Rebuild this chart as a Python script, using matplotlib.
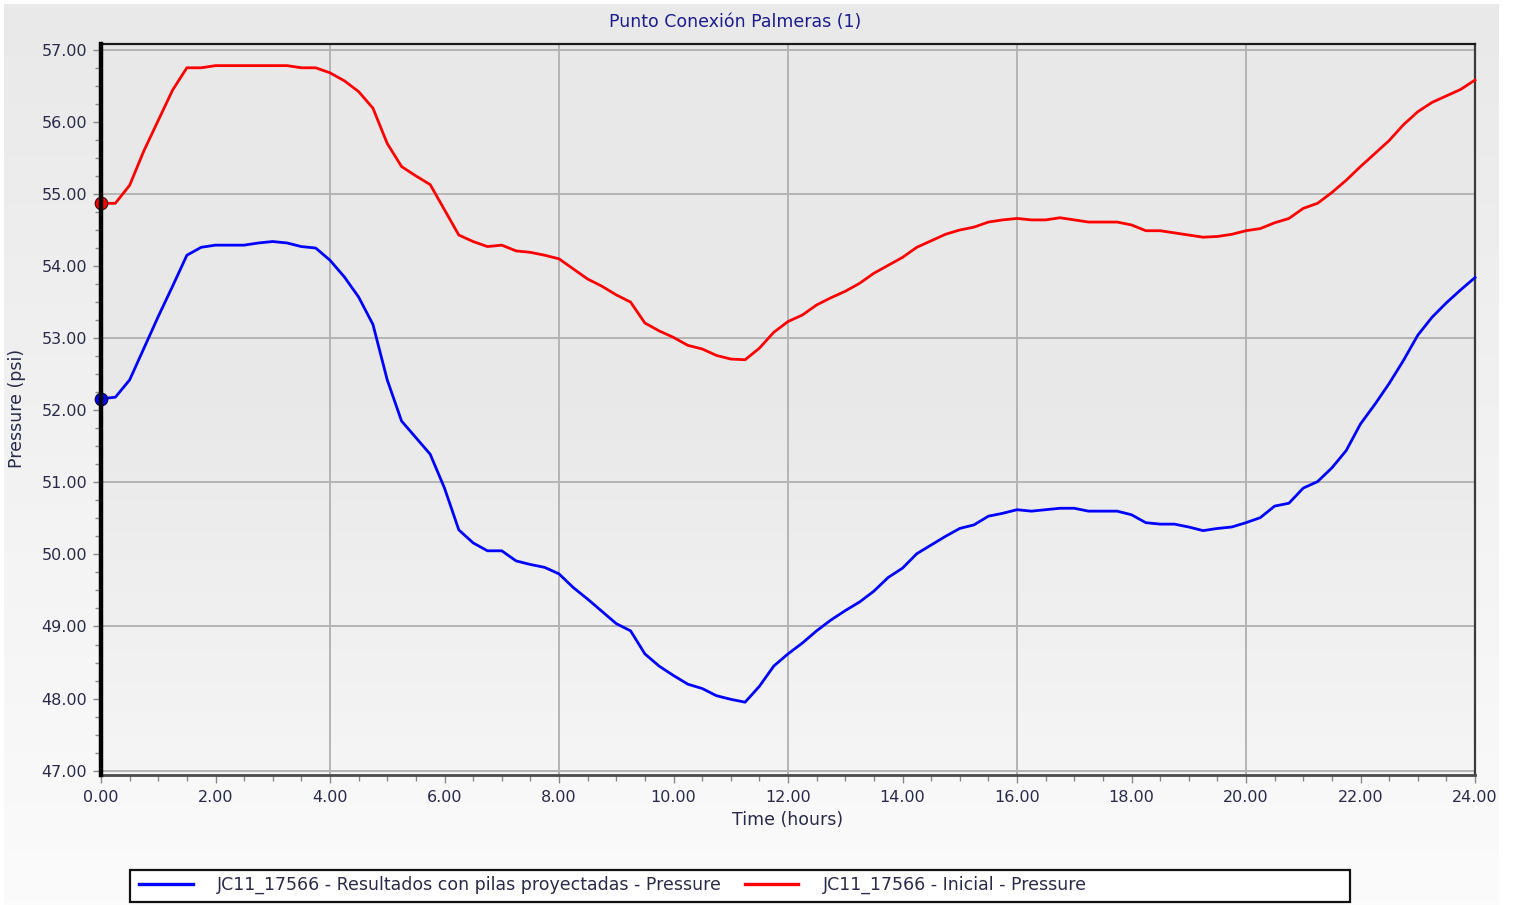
import numpy as np
import matplotlib
matplotlib.use("Agg")
import matplotlib.pyplot as plt
from matplotlib.ticker import MultipleLocator, FormatStrFormatter
from matplotlib.patches import Rectangle
from matplotlib.lines import Line2D

# ---------------- data ----------------
time_hours = [i * 0.25 for i in range(97)]

pressure_proyectadas = [
    52.16, 52.18, 52.42, 52.86, 53.30, 53.72, 54.15, 54.26,
    54.29, 54.29, 54.29, 54.32, 54.34, 54.32, 54.27, 54.25,
    54.08, 53.85, 53.57, 53.19, 52.42, 51.85, 51.62, 51.39,
    50.92, 50.34, 50.16, 50.05, 50.05, 49.91, 49.86, 49.82,
    49.73, 49.54, 49.38, 49.21, 49.04, 48.94, 48.62, 48.45,
    48.32, 48.20, 48.14, 48.04, 47.99, 47.95, 48.17, 48.45,
    48.62, 48.77, 48.94, 49.09, 49.22, 49.34, 49.49, 49.68,
    49.81, 50.01, 50.13, 50.25, 50.36, 50.41, 50.53, 50.57,
    50.62, 50.60, 50.62, 50.64, 50.64, 50.60, 50.60, 50.60,
    50.55, 50.44, 50.42, 50.42, 50.38, 50.33, 50.36, 50.38,
    50.44, 50.51, 50.67, 50.71, 50.92, 51.01, 51.20, 51.44,
    51.81, 52.08, 52.37, 52.69, 53.04, 53.29, 53.49, 53.67,
    53.84,
]

pressure_inicial = [
    54.87, 54.87, 55.12, 55.60, 56.02, 56.44, 56.75, 56.75,
    56.78, 56.78, 56.78, 56.78, 56.78, 56.78, 56.75, 56.75,
    56.68, 56.57, 56.42, 56.19, 55.70, 55.38, 55.25, 55.13,
    54.78, 54.43, 54.34, 54.27, 54.29, 54.21, 54.19, 54.15,
    54.10, 53.96, 53.82, 53.72, 53.60, 53.50, 53.21, 53.10,
    53.01, 52.90, 52.85, 52.76, 52.71, 52.70, 52.86, 53.08,
    53.23, 53.32, 53.46, 53.56, 53.65, 53.76, 53.90, 54.01,
    54.12, 54.26, 54.35, 54.44, 54.50, 54.54, 54.61, 54.64,
    54.66, 54.64, 54.64, 54.67, 54.64, 54.61, 54.61, 54.61,
    54.57, 54.49, 54.49, 54.46, 54.43, 54.40, 54.41, 54.44,
    54.49, 54.52, 54.60, 54.66, 54.80, 54.87, 55.02, 55.19,
    55.38, 55.56, 55.74, 55.96, 56.14, 56.27, 56.36, 56.45,
    56.58,
]

label_proyectadas = "JC11_17566 - Resultados con pilas proyectadas - Pressure"
label_inicial = "JC11_17566 - Inicial - Pressure"
title = "Punto Conexión Palmeras (1)"
x_label = "Time (hours)"
y_label = "Pressure (psi)"
x_grid = [4, 8, 12, 16, 20]
y_grid = [47, 49, 51, 53, 55, 57]

# ---------------- figure ----------------
W, H = 1513, 905
fig = plt.figure(figsize=(W / 100, H / 100), dpi=100, facecolor="white")

# outer panel with soft gradient
bg = fig.add_axes([0, 0, 1, 1], zorder=-10)
bg.set_axis_off()
bg.set_xlim(0, 1)
bg.set_ylim(0, 1)
grad = np.linspace(0, 1, 256).reshape(-1, 1)
bg.imshow(grad, cmap=matplotlib.colors.LinearSegmentedColormap.from_list(
    "p", ["#e9e9e9", "#fbfbfb"]), aspect="auto",
    extent=[4 / W, 1499 / W, 0, 1 - 5 / H], origin="upper")

ax = fig.add_axes([101 / W, 1 - 775 / H, (1475 - 101) / W, (775 - 44) / H])
ax.set_facecolor("none")
ax.imshow(grad, cmap=matplotlib.colors.LinearSegmentedColormap.from_list(
    "a", ["#e8e8e8", "#e9e9e9", "#f5f5f5"]), aspect="auto",
    extent=[0, 1, 0, 1], transform=ax.transAxes, origin="upper", zorder=0)

ax.set_xlim(0, 24)
ax.set_ylim(46.94, 57.08)

for g in y_grid:
    ax.axhline(g, color="#b4b4b4", lw=1.4, zorder=1)
for g in x_grid:
    ax.axvline(g, color="#b4b4b4", lw=1.4, zorder=1)

ax.plot(time_hours, pressure_inicial, color="#ff0000", lw=2.0, zorder=3,
        marker="o", markevery=[0], markersize=9, markerfacecolor="#ff0000",
        markeredgecolor="#4a0c0c", markeredgewidth=0.9, clip_on=False)
ax.plot(time_hours, pressure_proyectadas, color="#0000ff", lw=2.0, zorder=3,
        marker="o", markevery=[0], markersize=9, markerfacecolor="#0000ff",
        markeredgecolor="#0c0c4a", markeredgewidth=0.9, clip_on=False)

# spines
ax.spines["left"].set_color("#000000")
ax.spines["left"].set_linewidth(3.2)
ax.spines["left"].set_zorder(4)
ax.spines["top"].set_color("#1a1a1a")
ax.spines["top"].set_linewidth(1.6)
ax.spines["right"].set_color("#3a3a3a")
ax.spines["right"].set_linewidth(1.6)
ax.spines["bottom"].set_color("#4a4a4a")
ax.spines["bottom"].set_linewidth(2.0)

# ticks
ax.xaxis.set_major_locator(MultipleLocator(2))
ax.xaxis.set_minor_locator(MultipleLocator(0.5))
ax.yaxis.set_major_locator(MultipleLocator(1))
ax.yaxis.set_minor_locator(MultipleLocator(0.25))
ax.xaxis.set_major_formatter(FormatStrFormatter("%.2f"))
ax.yaxis.set_major_formatter(FormatStrFormatter("%.2f"))
tick_col = "#2a2a48"
ax.tick_params(axis="both", which="major", direction="out", length=6,
               width=1, color="#8a8a8a", labelsize=11.5, labelcolor=tick_col)
ax.tick_params(axis="both", which="minor", direction="out", length=4,
               width=1, color="#8a8a8a")
ax.tick_params(axis="y", which="major", pad=4)
ax.tick_params(axis="x", which="major", pad=5)

fig.text(788 / W, 1 - 820 / H, x_label, fontsize=12.5, color=tick_col,
         ha="center", va="center")
fig.text(17 / W, 1 - 408 / H, y_label, rotation=90, fontsize=12.5,
         color=tick_col, ha="center", va="center")

fig.text(735 / W, 1 - 22 / H, title, fontsize=12.5, color="#1c1c8c",
         ha="center", va="center")

# legend box
fig.add_artist(Rectangle((130 / W, 1 - 902 / H), (1350 - 130) / W, 32 / H,
                         transform=fig.transFigure, facecolor="white",
                         edgecolor="#111111", linewidth=1.6, zorder=5))
handles = [Line2D([], [], color="#0000ff", lw=2.4),
           Line2D([], [], color="#ff0000", lw=2.4)]
leg = fig.legend(handles, [label_proyectadas, label_inicial], ncol=2,
                 loc="center left", bbox_to_anchor=(139 / W, 1 - 885 / H),
                 frameon=False, fontsize=12.5, handlelength=3.1,
                 handletextpad=1.4, columnspacing=1.3, labelcolor=tick_col,
                 borderaxespad=0, borderpad=0)
leg.set_zorder(6)

fig.savefig("out.png", dpi=100, facecolor="white")
